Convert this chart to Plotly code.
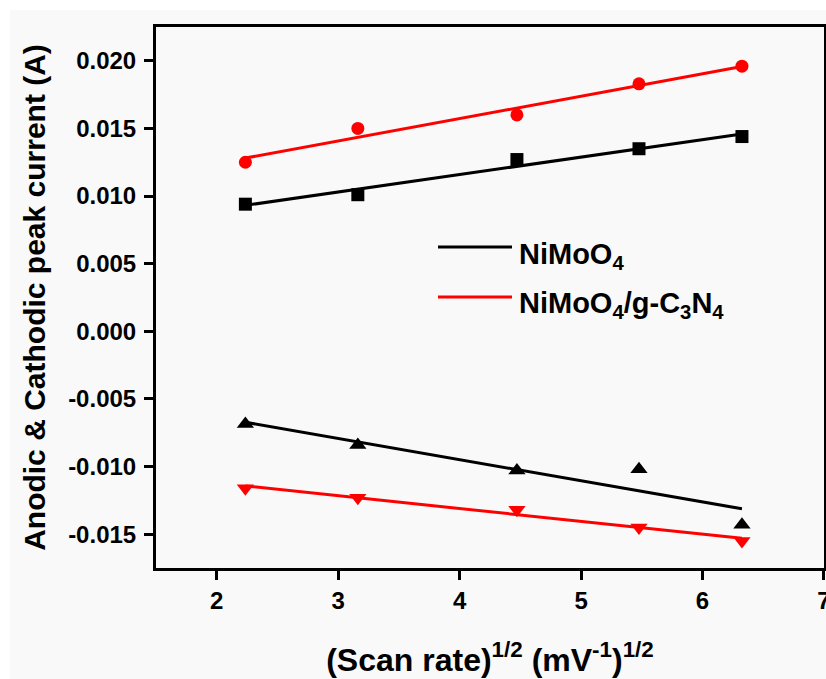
import numpy as np
import plotly.graph_objects as go

# Data
scan_rate_sqrt = [2.236, 3.162, 4.472, 5.477, 6.325]
nimoo4_anodic = [0.0094, 0.0101, 0.0127, 0.0135, 0.0144]
nimoo4_cathodic = [-0.00685, -0.0084, -0.0103, -0.0102, -0.0143]
composite_anodic = [0.0125, 0.0150, 0.0160, 0.0183, 0.0196]
composite_cathodic = [-0.0116, -0.0123, -0.0132, -0.0145, -0.0155]

x_ticks = [2, 3, 4, 5, 6, 7]
y_ticks = [-0.015, -0.010, -0.005, 0.000, 0.005, 0.010, 0.015, 0.020]
y_tick_labels = ["-0.015", "-0.010", "-0.005", "0.000", "0.005", "0.010", "0.015", "0.020"]

BLACK = "#000000"
RED = "#ff0000"
FONT = "Liberation Sans, Arial, sans-serif"

series = [
    (nimoo4_anodic, BLACK, "square", 13),
    (nimoo4_cathodic, BLACK, "triangle-up", 15),
    (composite_anodic, RED, "circle", 13),
    (composite_cathodic, RED, "triangle-down", 15),
]

fig = go.Figure()
xs = np.array(scan_rate_sqrt)
for ys, color, symbol, msize in series:
    k, b = np.polyfit(xs, np.array(ys), 1)
    xf = np.array([xs.min(), xs.max()])
    fig.add_trace(go.Scatter(x=xf, y=k * xf + b, mode="lines",
                             line=dict(color=color, width=3), showlegend=False,
                             hoverinfo="skip"))
    fig.add_trace(go.Scatter(x=scan_rate_sqrt, y=ys, mode="markers",
                             marker=dict(color=color, symbol=symbol, size=msize,
                                         line=dict(width=0)),
                             showlegend=False))

W, H = 826, 679
L, R, T, B = 156, 2, 27, 111
pw, ph = W - L - R, H - T - B

def px(xs_):
    return (xs_ - L) / pw

def py(ys_):
    return (H - B - ys_) / ph

shapes = [
    dict(type="rect", xref="paper", yref="paper", x0=px(10), x1=px(840),
         y0=py(700), y1=py(10), fillcolor="#f9f9f9", line=dict(width=0),
         layer="below"),
    dict(type="line", xref="paper", yref="paper", x0=px(438), x1=px(512),
         y0=py(247), y1=py(247), line=dict(color=BLACK, width=3)),
    dict(type="line", xref="paper", yref="paper", x0=px(438), x1=px(512),
         y0=py(297), y1=py(297), line=dict(color=RED, width=3)),
]

annotations = [
    dict(text="NiMoO<sub>4</sub>", xref="paper", yref="paper", x=px(517), y=py(256),
         xanchor="left", yanchor="middle", showarrow=False,
         font=dict(family=FONT, size=29, color="black", weight="bold")),
    dict(text="NiMoO<sub>4</sub>/g-C<sub>3</sub>N<sub>4</sub>", xref="paper", yref="paper",
         x=px(517), y=py(305), xanchor="left", yanchor="middle", showarrow=False,
         font=dict(family=FONT, size=29, color="black", weight="bold")),
]

axis_common = dict(showline=True, linecolor="black", linewidth=3, mirror=True,
                   ticks="outside", ticklen=9, tickwidth=3, tickcolor="black",
                   showgrid=False, zeroline=False, ticklabeloverflow="allow",
                   tickfont=dict(family=FONT, size=24, color="black", weight="bold"))

fig.update_layout(
    width=W, height=H,
    margin=dict(l=L, r=R, t=T, b=B, autoexpand=False),
    paper_bgcolor="white", plot_bgcolor="rgba(0,0,0,0)",
    showlegend=False,
    shapes=shapes, annotations=annotations,
    xaxis=dict(range=[1.5, 7.0005], tickvals=x_ticks, ticktext=[str(v) for v in x_ticks],
               title=dict(text="(Scan rate)<sup>1/2</sup> (mV<sup>-1</sup>)<sup>1/2</sup>",
                          font=dict(family=FONT, size=32, color="black", weight="bold"),
                          standoff=36),
               **axis_common),
    yaxis=dict(range=[-0.0175, 0.0225], tickvals=y_ticks, ticktext=y_tick_labels,
               ticklabelstandoff=3,
               title=dict(text="Anodic & Cathodic peak current (A)",
                          font=dict(family=FONT, size=30, color="black", weight="bold"),
                          standoff=14),
               **axis_common),
)

fig.write_html(
    "out.html",
    config={"displayModeBar": False},
    post_script="document.body.style.margin='0';document.body.style.overflow='hidden';",
)
